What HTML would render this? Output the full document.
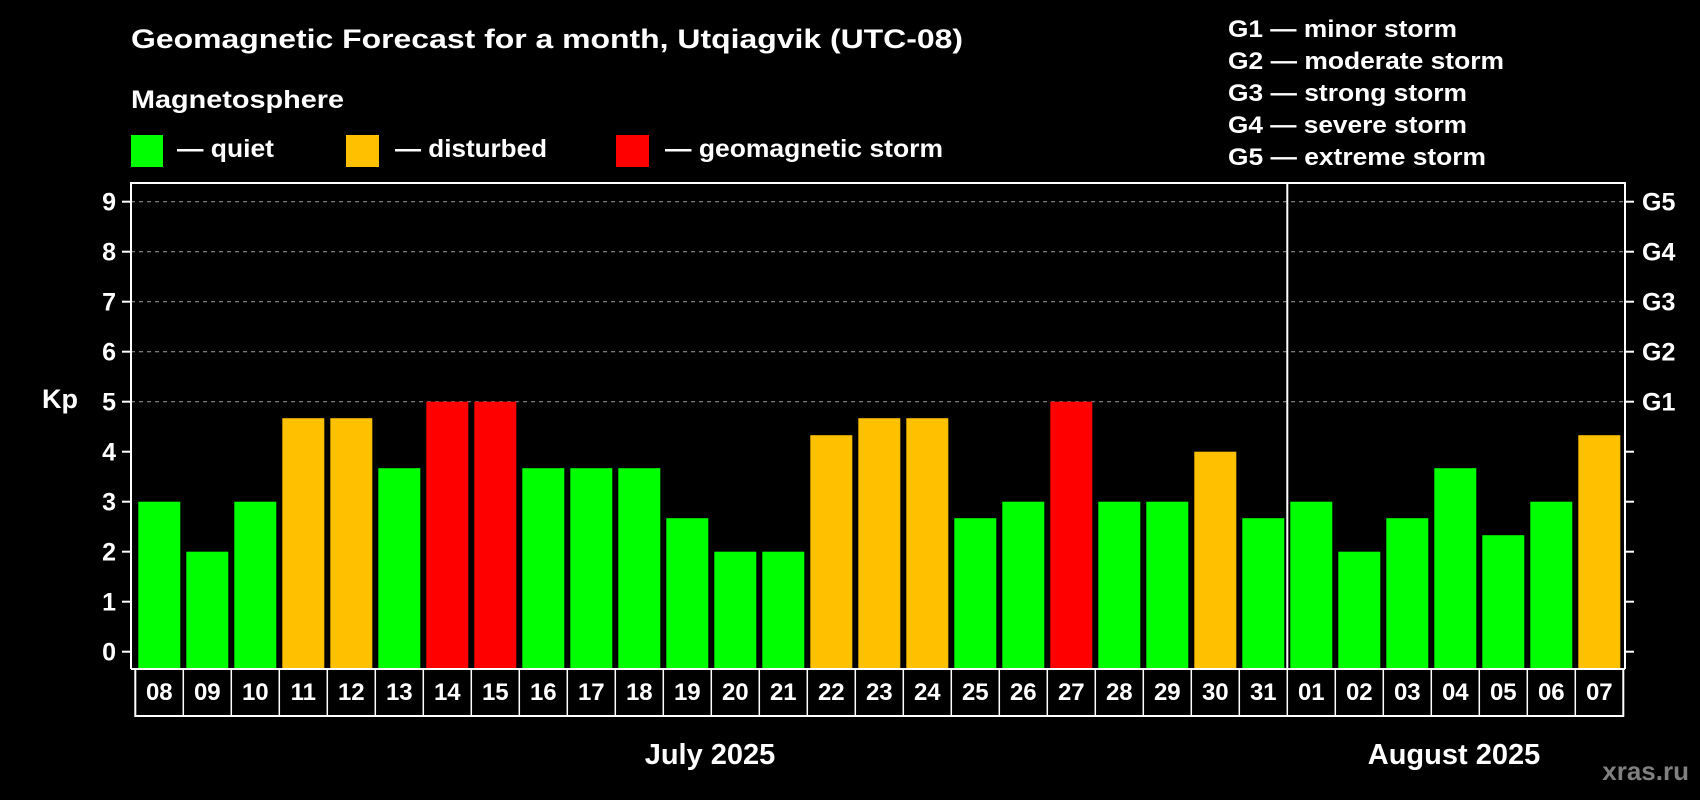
<!DOCTYPE html>
<html><head><meta charset="utf-8"><style>
html,body{margin:0;padding:0;background:#000;}
svg{display:block;font-family:"Liberation Sans",Arial,sans-serif;font-weight:bold;}
</style></head><body>
<svg id="chart" width="1700" height="800" viewBox="0 0 1700 800">
<rect x="0" y="0" width="1700" height="800" fill="#000"/>
<text x="131" y="48" fill="#fff" font-size="27" textLength="832" lengthAdjust="spacingAndGlyphs">Geomagnetic Forecast for a month, Utqiagvik (UTC-08)</text>
<text x="131" y="108" fill="#fff" font-size="25" textLength="213" lengthAdjust="spacingAndGlyphs">Magnetosphere</text>
<g>
<rect x="131" y="135" width="32" height="32" fill="#00ff00"/>
<text x="177" y="157" fill="#fff" font-size="25" textLength="97" lengthAdjust="spacingAndGlyphs">— quiet</text>
</g>
<g>
<rect x="346" y="135" width="33" height="32" fill="#ffc000"/>
<text x="395" y="157" fill="#fff" font-size="25" textLength="152" lengthAdjust="spacingAndGlyphs">— disturbed</text>
</g>
<g>
<rect x="616" y="135" width="33" height="32" fill="#ff0000"/>
<text x="665" y="157" fill="#fff" font-size="25" textLength="278" lengthAdjust="spacingAndGlyphs">— geomagnetic storm</text>
</g>
<g font-size="24" fill="#fff">
<text x="1228" y="37" textLength="229" lengthAdjust="spacingAndGlyphs">G1 — minor storm</text>
<text x="1228" y="69" textLength="276" lengthAdjust="spacingAndGlyphs">G2 — moderate storm</text>
<text x="1228" y="101" textLength="239" lengthAdjust="spacingAndGlyphs">G3 — strong storm</text>
<text x="1228" y="133" textLength="239" lengthAdjust="spacingAndGlyphs">G4 — severe storm</text>
<text x="1228" y="165" textLength="258" lengthAdjust="spacingAndGlyphs">G5 — extreme storm</text>
</g>
<text x="42" y="408" fill="#fff" font-size="27">Kp</text>
<g id="grid"></g>
<g id="bars"></g>
<g id="axes"></g>
<text x="710" y="764" fill="#fff" font-size="29" text-anchor="middle">July 2025</text>
<text x="1454" y="764" fill="#fff" font-size="29" text-anchor="middle">August 2025</text>
<text x="1689" y="780" fill="#808080" font-size="26" text-anchor="end">xras.ru</text>
</svg>
<script>
const days = ["08","09","10","11","12","13","14","15","16","17","18","19","20","21","22","23","24","25","26","27","28","29","30","31","01","02","03","04","05","06","07"];
const kpValues = [3,2,3,4.67,4.67,3.67,5,5,3.67,3.67,3.67,2.67,2,2,4.33,4.67,4.67,2.67,3,5,3,3,4,2.67,3,2,2.67,3.67,2.33,3,4.33];
const yTicks = [0,1,2,3,4,5,6,7,8,9];
const gLabels = ["G1","G2","G3","G4","G5"];
const gLevels = [5,6,7,8,9];
const gridLevels = [5,6,7,8,9];

const NS = "http://www.w3.org/2000/svg";
const boxLeft = 135.3, slot = 48, barW = 42;
const plotL = 131, plotR = 1625, plotT = 183, plotB = 669;
const y0 = 651.7, perUnit = 50;
function xScale(i){ return boxLeft + i*slot; }
function yScale(v){ return y0 - v*perUnit; }
function mk(tag, attrs, parent){ const e=document.createElementNS(NS,tag); for(const k in attrs) e.setAttribute(k,attrs[k]); parent.appendChild(e); return e; }
function colorFor(v){ return v>=5 ? "#ff0000" : (v>=4 ? "#ffc000" : "#00ff00"); }

const grid = document.getElementById("grid");
gridLevels.forEach(v=>{
  const l = mk("line",{x1:plotL,x2:plotR,y1:yScale(v),y2:yScale(v),stroke:"#a0a0a0","stroke-width":1,"stroke-dasharray":"4 4"},grid);
  
  
});

const bars = document.getElementById("bars");
kpValues.forEach((v,i)=>{
  const x = xScale(i) + (slot-barW)/2;
  const r = mk("rect",{x:x,y:yScale(v),width:barW,height:plotB-yScale(v),fill:colorFor(v)},bars);
  
  
});

const axes = document.getElementById("axes");
// frame
const frame = mk("path",{d:`M${plotL},${plotB} V${plotT} H${plotR} V${plotB}`,fill:"none",stroke:"#fff","stroke-width":2},axes);


// month separator
const sepIdx = days.indexOf("01");
const sep = mk("line",{x1:xScale(sepIdx),x2:xScale(sepIdx),y1:plotT,y2:plotB,stroke:"#fff","stroke-width":2},axes);


// y ticks and labels
yTicks.forEach(v=>{
  const y = yScale(v);
  const t1 = mk("line",{x1:122,x2:plotL,y1:y,y2:y,stroke:"#fff","stroke-width":2},axes);
  
  
  const t2 = mk("line",{x1:plotR,x2:1634,y1:y,y2:y,stroke:"#fff","stroke-width":2},axes);
  
  
  const lab = mk("text",{x:116,y:y+9,fill:"#fff","font-size":25,"text-anchor":"end"},axes);
  lab.textContent = v;
  
  
});
gLabels.forEach((g,i)=>{
  const lab = mk("text",{x:1642,y:yScale(gLevels[i])+9,fill:"#fff","font-size":25},axes);
  lab.textContent = g;
  
  
});
// date boxes
const boxT = 669, boxB = 716;
const dbox = mk("rect",{x:boxLeft,y:boxT,width:slot*days.length,height:boxB-boxT,fill:"#000",stroke:"#fff","stroke-width":2},axes);


days.forEach((d,i)=>{
  if(i>0){
    const l = mk("line",{x1:xScale(i),x2:xScale(i),y1:boxT,y2:boxB,stroke:"#fff","stroke-width":1.5},axes);
    
    
  }
  const t = mk("text",{x:xScale(i)+slot/2,y:700,fill:"#fff","font-size":24,"text-anchor":"middle"},axes);
  t.textContent = d;
  
  
});
const bline = mk("line",{x1:plotL,x2:plotR,y1:boxT,y2:boxT,stroke:"#fff","stroke-width":2},axes);


</script>
</body></html>
